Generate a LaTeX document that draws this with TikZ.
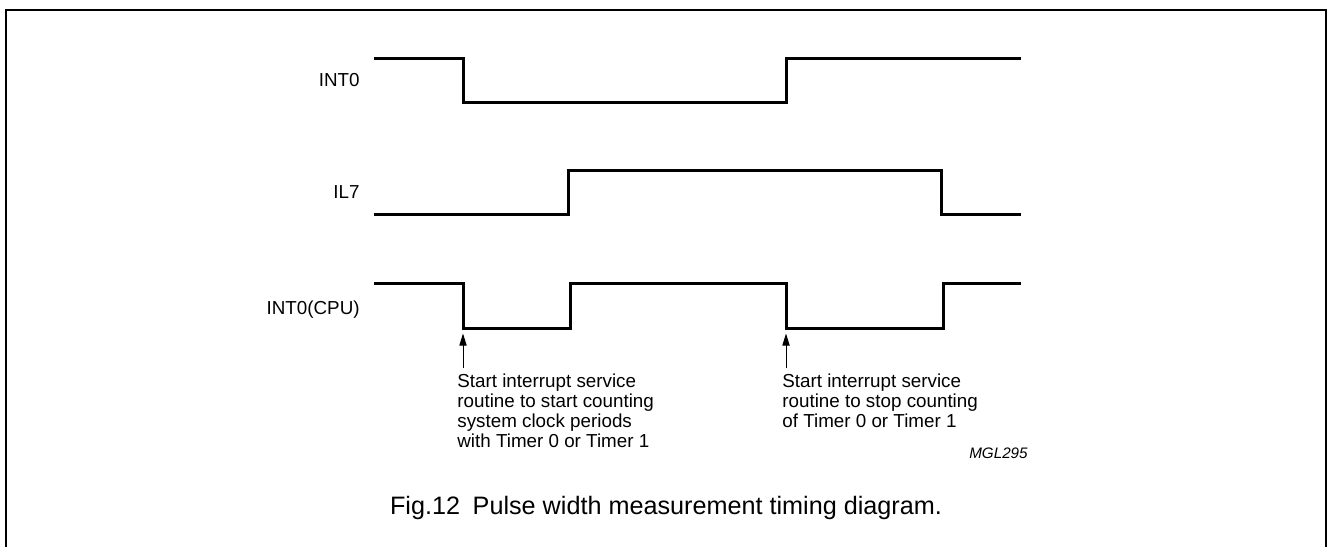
\documentclass[tikz,border=0pt]{standalone}
\usepackage{fontspec}
\setmainfont{Liberation Sans}
\usetikzlibrary{arrows.meta}
\begin{document}
\begin{tikzpicture}[x=0.5pt,y=-0.5pt,
  wave/.style={line width=1.5pt,line join=miter},
  frame/.style={line width=1pt},
  sig/.style={inner sep=0pt,anchor=base east,font=\fontsize{9.4}{10}\selectfont},
  note/.style={inner sep=0pt,anchor=north west,align=left,font=\fontsize{9.4}{10.15}\selectfont},
  marker/.style={line width=0.5pt,-{Triangle[length=6pt,width=3.6pt]}},
  code/.style={inner sep=0pt,anchor=base east,font=\fontsize{7.6}{9}\selectfont\itshape},
  caption/.style={inner sep=0pt,anchor=base,font=\fontsize{12.6}{14}\selectfont}]
\useasboundingbox (0,0) rectangle (1327,546);
% frame
\draw[frame] (5.5,548) -- (5.5,9.5) -- (1325.5,9.5) -- (1325.5,548);
% signal names
\node[sig] (lint0) at (360,86) {INT0};
\node[sig] (lil7) at (360,198) {IL7};
\node[sig] (lcpu) at (360,314) {INT0(CPU)};
% waveforms
\draw[wave] (374,58.5) -- (463,58.5) -- (463,102.5) -- (786,102.5) -- (786,58.5) -- (1021,58.5);
\draw[wave] (374,214.5) -- (568,214.5) -- (568,170.5) -- (941,170.5) -- (941,214.5) -- (1021,214.5);
\draw[wave] (374,283.5) -- (463,283.5) -- (463,328.5) coordinate (fall1) -- (570,328.5) -- (570,283.5) -- (786,283.5) -- (786,328.5) coordinate (fall2) -- (943,328.5) -- (943,283.5) -- (1021,283.5);
% markers
\coordinate (m1) at (463,368);
\coordinate (m2) at (786,368);
\draw[marker] (m1) -- ([yshift=-2.5pt]fall1);
\draw[marker] (m2) -- ([yshift=-2.5pt]fall2);
% notes
\node[note] (n1) at (457,373) {Start interrupt service\\routine to start counting\\system clock periods\\with Timer 0 or Timer 1};
\node[note] (n2) at (782,373) {Start interrupt service\\routine to stop counting\\of Timer 0 or Timer 1};
\node[code] (mgl) at (1028,458) {MGL295};
% caption
\node[caption] (cap) at (666,514) {Fig.12\hspace{0.5em}Pulse width measurement timing diagram.};
\end{tikzpicture}
\end{document}
